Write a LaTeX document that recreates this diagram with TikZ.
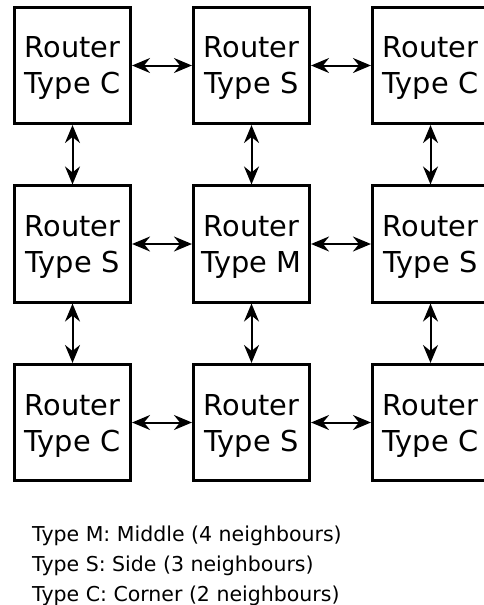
\documentclass[tikz,border=0pt]{standalone}
\usepackage{fontspec}
\setmainfont{DejaVu Sans}
\usetikzlibrary{arrows.meta,positioning}

\begin{document}
\begin{tikzpicture}[x=1pt,y=-1pt,
    router/.style={draw,line width=2.6pt,minimum size=116.5pt,inner sep=0pt,
      align=center,text depth=0pt,font=\fontsize{28.8}{36}\selectfont},
    link/.style={line width=2pt,{Stealth[length=18pt,width=15pt,inset=6pt]}-{Stealth[length=18pt,width=15pt,inset=6pt]}},
    legend/.style={anchor=base west,inner sep=0pt,font=\fontsize{20.5}{30}\selectfont}]

  \useasboundingbox (0,0) rectangle (483,605);

  % grid of routers
  \node[router] (r11) at (72.5,65.5)  {Router\\Type C};
  \node[router] (r12) at (251.5,65.5) {Router\\Type S};
  \node[router] (r13) at (430.5,65.5) {Router\\Type C};

  \node[router] (r21) at (72.5,244)   {Router\\Type S};
  \node[router] (r22) at (251.5,244)  {Router\\Type M};
  \node[router] (r23) at (430.5,244)  {Router\\Type S};

  \node[router] (r31) at (72.5,422.5)  {Router\\Type C};
  \node[router] (r32) at (251.5,422.5) {Router\\Type S};
  \node[router] (r33) at (430.5,422.5) {Router\\Type C};

  % horizontal links
  \foreach \r in {1,2,3}{
    \draw[link] (r\r1) -- (r\r2);
    \draw[link] (r\r2) -- (r\r3);
  }

  % vertical links
  \foreach \c in {1,2,3}{
    \draw[link] (r1\c) -- (r2\c);
    \draw[link] (r2\c) -- (r3\c);
  }

  % legend
  \node[legend] (legM) at (32,541) {Type M: Middle (4 neighbours)};
  \node[legend] (legS) at (32,571) {Type S: Side (3 neighbours)};
  \node[legend] (legC) at (32,601) {Type C: Corner (2 neighbours)};

\end{tikzpicture}
\end{document}
